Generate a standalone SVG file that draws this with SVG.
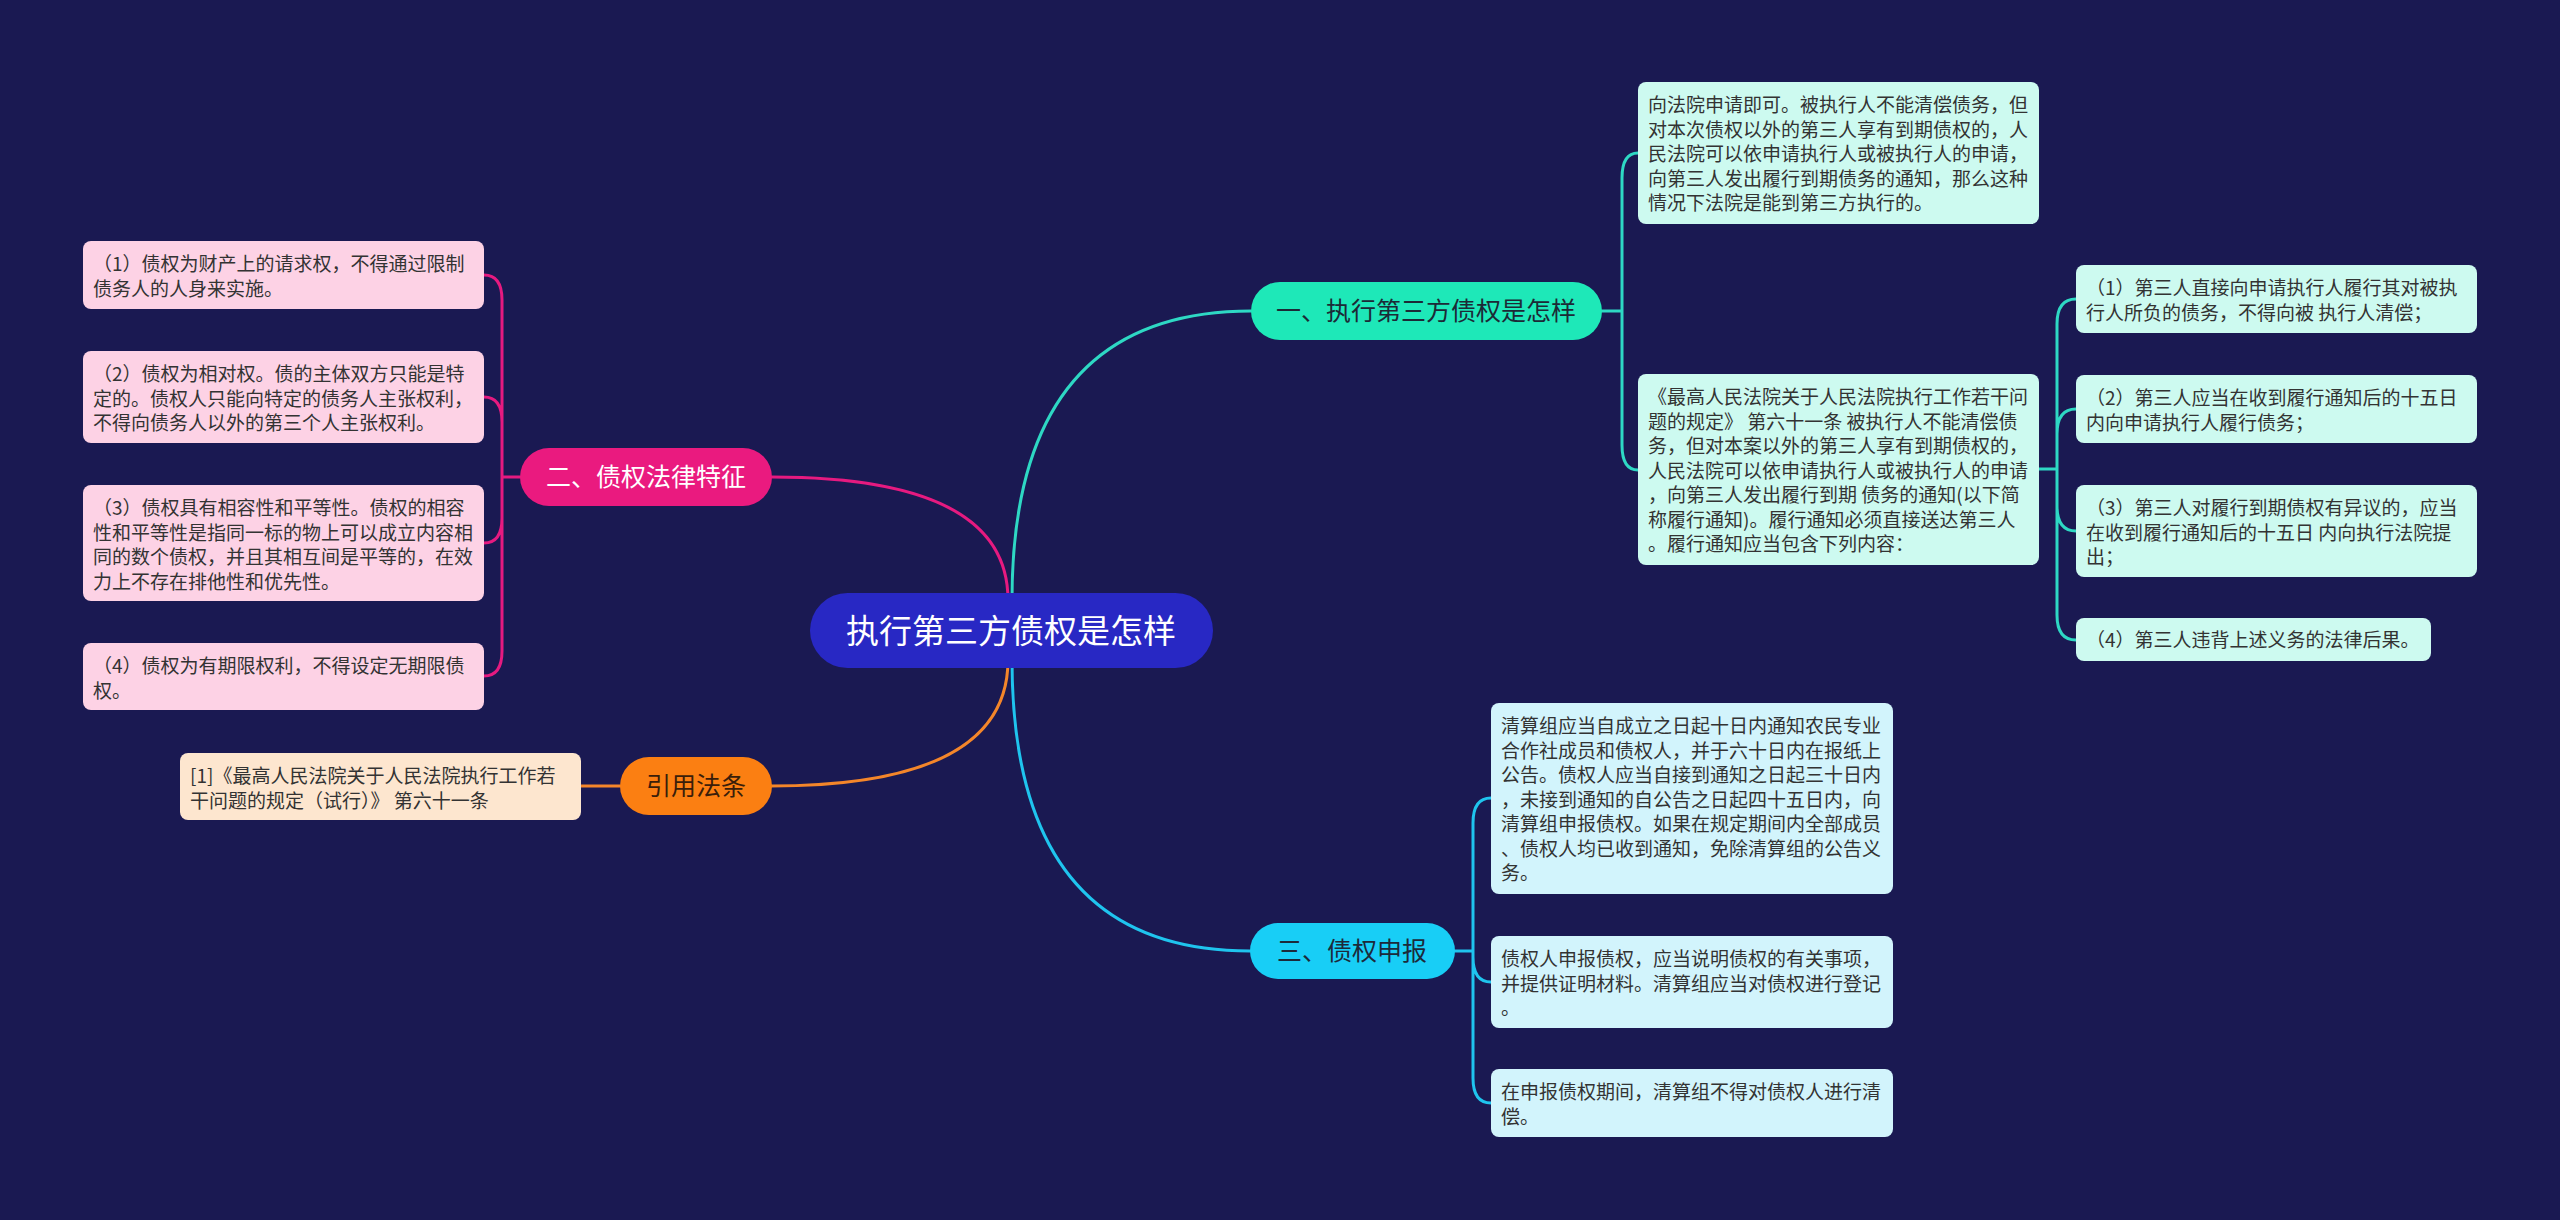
<svg xmlns="http://www.w3.org/2000/svg" width="2560" height="1220" viewBox="0 0 2560 1220">
<style>
text{font-family:"Noto Sans CJK SC","Noto Sans",sans-serif}
.t{font-size:19px;fill:#333333}
.p{font-size:25px;text-anchor:middle}
.c{fill:none;stroke-width:3;stroke-linecap:round}
.teal{stroke:#2ed8c4}.pink{stroke:#e61a80}.org{stroke:#f4862a}.cy{stroke:#1fc4ee}
.bt{fill:#cdfaf0}.bp{fill:#fdd2e5}.bo{fill:#fde6cf}.bc{fill:#d2f4fc}
</style>
<rect width="2560" height="1220" fill="#1a1952"/>
<g id="connectors">
<path class="c teal" d="M1012 600 Q1012 311 1251 311"/>
<path class="c cy" d="M1012 660 Q1012 951 1250 951"/>
<path class="c pink" d="M1008 600 Q1008 477 772 477"/>
<path class="c org" d="M1008 660 Q1008 786 771 786"/>
<path class="c teal" d="M1602 311 H1622 M1622 311 V178 Q1622 153 1638 153 M1622 311 V445 Q1622 470 1638 470"/>
<path class="c teal" d="M2039 469 H2057 M2057 469 V324 Q2057 299 2076 299 M2057 469 V434 Q2057 409 2076 409 M2057 469 V506 Q2057 531 2076 531 M2057 469 V615 Q2057 640 2076 640"/>
<path class="c pink" d="M520 477 H502 M502 477 V300 Q502 275 484 275 M502 477 V422 Q502 397 484 397 M502 477 V518 Q502 543 484 543 M502 477 V651 Q502 676 484 676"/>
<path class="c org" d="M620 786 H581"/>
<path class="c cy" d="M1455 951 H1473 M1473 951 V823 Q1473 798 1491 798 M1473 951 V957 Q1473 982 1491 982 M1473 951 V1078 Q1473 1103 1491 1103"/>
</g>
<g id="root">
<rect x="810" y="593" width="403" height="75" rx="37.5" fill="#2828c4"/>
<text x="1011" y="643" font-size="33" fill="#ffffff" text-anchor="middle">执行第三方债权是怎样</text>
</g>
<g id="b1">
<rect x="1251" y="282" width="351" height="58" rx="29" fill="#1ee8b8"/>
<text class="p" x="1426" y="320" fill="#1c2a36">一、执行第三方债权是怎样</text>
</g>
<g id="b2">
<rect x="520" y="448" width="252" height="58" rx="29" fill="#ea1a7f"/>
<text class="p" x="646" y="486" fill="#ffffff">二、债权法律特征</text>
</g>
<g id="b3">
<rect x="1250" y="923" width="205" height="56" rx="28" fill="#18cef6"/>
<text class="p" x="1352" y="960" fill="#1c2a3a">三、债权申报</text>
</g>
<g id="b4">
<rect x="620" y="757" width="152" height="58" rx="29" fill="#fb7f12"/>
<text class="p" x="696" y="795" fill="#3a1e0a">引用法条</text>
</g>
<g id="b1a">
<rect class="bt" x="1638" y="82" width="401" height="142" rx="8"/>
<text class="t"><tspan x="1648" y="112">向法院申请即可。被执行人不能清偿债务，但</tspan><tspan x="1648" y="136.5">对本次债权以外的第三人享有到期债权的，人</tspan><tspan x="1648" y="161">民法院可以依申请执行人或被执行人的申请，</tspan><tspan x="1648" y="185.5">向第三人发出履行到期债务的通知，那么这种</tspan><tspan x="1648" y="210">情况下法院是能到第三方执行的。</tspan></text>
</g>
<g id="b1b">
<rect class="bt" x="1638" y="374" width="401" height="191" rx="8"/>
<text class="t"><tspan x="1648" y="404">《最高人民法院关于人民法院执行工作若干问</tspan><tspan x="1648" y="428.5">题的规定》 第六十一条 被执行人不能清偿债</tspan><tspan x="1648" y="453">务，但对本案以外的第三人享有到期债权的，</tspan><tspan x="1648" y="477.5">人民法院可以依申请执行人或被执行人的申请</tspan><tspan x="1648" y="502">，向第三人发出履行到期 债务的通知(以下简</tspan><tspan x="1648" y="526.5">称履行通知)。履行通知必须直接送达第三人</tspan><tspan x="1648" y="551">。履行通知应当包含下列内容：</tspan></text>
</g>
<g id="b1b1">
<rect class="bt" x="2076" y="265" width="401" height="68" rx="8"/>
<text class="t"><tspan x="2086" y="295">（1）第三人直接向申请执行人履行其对被执</tspan><tspan x="2086" y="319.5">行人所负的债务，不得向被 执行人清偿；</tspan></text>
</g>
<g id="b1b2">
<rect class="bt" x="2076" y="375" width="401" height="68" rx="8"/>
<text class="t"><tspan x="2086" y="405">（2）第三人应当在收到履行通知后的十五日</tspan><tspan x="2086" y="429.5">内向申请执行人履行债务；</tspan></text>
</g>
<g id="b1b3">
<rect class="bt" x="2076" y="485" width="401" height="92" rx="8"/>
<text class="t"><tspan x="2086" y="515">（3）第三人对履行到期债权有异议的，应当</tspan><tspan x="2086" y="539.5">在收到履行通知后的十五日 内向执行法院提</tspan><tspan x="2086" y="564">出；</tspan></text>
</g>
<g id="b1b4">
<rect class="bt" x="2076" y="618" width="355" height="43" rx="8"/>
<text class="t"><tspan x="2086" y="647">（4）第三人违背上述义务的法律后果。</tspan></text>
</g>
<g id="b2a">
<rect class="bp" x="83" y="241" width="401" height="68" rx="8"/>
<text class="t"><tspan x="93" y="271">（1）债权为财产上的请求权，不得通过限制</tspan><tspan x="93" y="295.5">债务人的人身来实施。</tspan></text>
</g>
<g id="b2b">
<rect class="bp" x="83" y="351" width="401" height="92" rx="8"/>
<text class="t"><tspan x="93" y="381">（2）债权为相对权。债的主体双方只能是特</tspan><tspan x="93" y="405.5">定的。债权人只能向特定的债务人主张权利，</tspan><tspan x="93" y="430">不得向债务人以外的第三个人主张权利。</tspan></text>
</g>
<g id="b2c">
<rect class="bp" x="83" y="485" width="401" height="116" rx="8"/>
<text class="t"><tspan x="93" y="515">（3）债权具有相容性和平等性。债权的相容</tspan><tspan x="93" y="539.5">性和平等性是指同一标的物上可以成立内容相</tspan><tspan x="93" y="564">同的数个债权，并且其相互间是平等的，在效</tspan><tspan x="93" y="588.5">力上不存在排他性和优先性。</tspan></text>
</g>
<g id="b2d">
<rect class="bp" x="83" y="643" width="401" height="67" rx="8"/>
<text class="t"><tspan x="93" y="673">（4）债权为有期限权利，不得设定无期限债</tspan><tspan x="93" y="697.5">权。</tspan></text>
</g>
<g id="b4a">
<rect class="bo" x="180" y="753" width="401" height="67" rx="8"/>
<text class="t"><tspan x="190" y="783">[1]《最高人民法院关于人民法院执行工作若</tspan><tspan x="190" y="807.5">干问题的规定（试行）》 第六十一条</tspan></text>
</g>
<g id="b3a">
<rect class="bc" x="1491" y="703" width="402" height="191" rx="8"/>
<text class="t"><tspan x="1501" y="733">清算组应当自成立之日起十日内通知农民专业</tspan><tspan x="1501" y="757.5">合作社成员和债权人，并于六十日内在报纸上</tspan><tspan x="1501" y="782">公告。债权人应当自接到通知之日起三十日内</tspan><tspan x="1501" y="806.5">，未接到通知的自公告之日起四十五日内，向</tspan><tspan x="1501" y="831">清算组申报债权。如果在规定期间内全部成员</tspan><tspan x="1501" y="855.5">、债权人均已收到通知，免除清算组的公告义</tspan><tspan x="1501" y="880">务。</tspan></text>
</g>
<g id="b3b">
<rect class="bc" x="1491" y="936" width="402" height="92" rx="8"/>
<text class="t"><tspan x="1501" y="966">债权人申报债权，应当说明债权的有关事项，</tspan><tspan x="1501" y="990.5">并提供证明材料。清算组应当对债权进行登记</tspan><tspan x="1501" y="1015">。</tspan></text>
</g>
<g id="b3c">
<rect class="bc" x="1491" y="1069" width="402" height="68" rx="8"/>
<text class="t"><tspan x="1501" y="1099">在申报债权期间，清算组不得对债权人进行清</tspan><tspan x="1501" y="1123.5">偿。</tspan></text>
</g>
</svg>
